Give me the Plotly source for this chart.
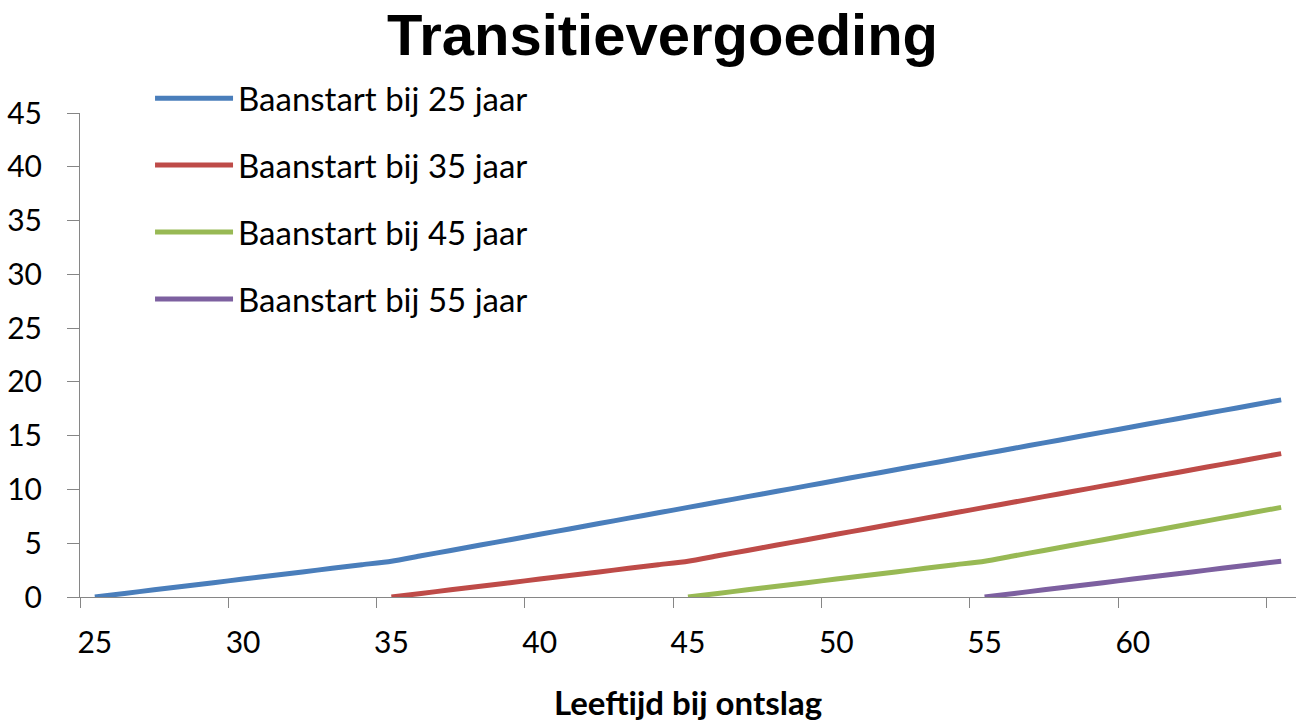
import plotly.graph_objects as go

# ---- data ----
ages_25 = list(range(25, 66))
vals_25 = [0, 0.33, 0.67, 1.0, 1.33, 1.67, 2.0, 2.33, 2.67, 3.0, 3.33,
           3.83, 4.33, 4.83, 5.33, 5.83, 6.33, 6.83, 7.33, 7.83, 8.33,
           8.83, 9.33, 9.83, 10.33, 10.83, 11.33, 11.83, 12.33, 12.83, 13.33,
           13.83, 14.33, 14.83, 15.33, 15.83, 16.33, 16.83, 17.33, 17.83, 18.33]
ages_35 = list(range(35, 66))
vals_35 = [0, 0.33, 0.67, 1.0, 1.33, 1.67, 2.0, 2.33, 2.67, 3.0, 3.33,
           3.83, 4.33, 4.83, 5.33, 5.83, 6.33, 6.83, 7.33, 7.83, 8.33,
           8.83, 9.33, 9.83, 10.33, 10.83, 11.33, 11.83, 12.33, 12.83, 13.33]
ages_45 = list(range(45, 66))
vals_45 = [0, 0.33, 0.67, 1.0, 1.33, 1.67, 2.0, 2.33, 2.67, 3.0, 3.33,
           3.83, 4.33, 4.83, 5.33, 5.83, 6.33, 6.83, 7.33, 7.83, 8.33]
ages_55 = list(range(55, 66))
vals_55 = [0, 0.33, 0.67, 1.0, 1.33, 1.67, 2.0, 2.33, 2.67, 3.0, 3.33]

series_names = ["Baanstart bij 25 jaar", "Baanstart bij 35 jaar",
                "Baanstart bij 45 jaar", "Baanstart bij 55 jaar"]
colors = ["#4A7EBB", "#BE4B48", "#98B954", "#7D60A0"]

x_tick_vals = [25, 30, 35, 40, 45, 50, 55, 60]
x_tick_marks = [24.5, 29.5, 34.5, 39.5, 44.5, 49.5, 54.5, 59.5, 64.5]
y_tick_vals = [0, 5, 10, 15, 20, 25, 30, 35, 40, 45]

title_text = "Transitievergoeding"
x_title = "Leeftijd bij ontslag"

FONT = "Lato"
TITLE_FONT = "Liberation Sans"

fig = go.Figure()
for i, (xs, ys) in enumerate([(ages_25, vals_25), (ages_35, vals_35),
                               (ages_45, vals_45), (ages_55, vals_55)]):
    fig.add_trace(go.Scatter(
        x=xs, y=ys, mode="lines", name=series_names[i],
        line=dict(color=colors[i], width=5, shape="spline", smoothing=0.6),
        legendgroup=str(i),
    ))

fig.update_layout(
    width=1299, height=724,
    margin=dict(l=80, r=3, t=113, b=127, autoexpand=False),
    paper_bgcolor="white", plot_bgcolor="white",
    font=dict(family=FONT, color="black", size=30),
    title=dict(text=title_text, xref="container", x=0.51, xanchor="center",
               yref="container", y=0.9805, yanchor="top",
               font=dict(family=TITLE_FONT, size=58, color="black", weight="bold")),
    showlegend=True,
    legend=dict(xref="container", x=0.1155, xanchor="left",
                yref="container", y=0.903, yanchor="top",
                bgcolor="rgba(0,0,0,0)", itemwidth=78, tracegroupgap=21,
                font=dict(size=33, family=FONT)),
    xaxis=dict(range=[24.5, 65.5], tickmode="array", tickvals=x_tick_vals,
               ticktext=[str(v) for v in x_tick_vals], ticks="",
               showgrid=False, zeroline=False, showline=True,
               linecolor="#868686", linewidth=1,
               tickfont=dict(size=30), ticklabelstandoff=19,
               minor=dict(tickmode="array", tickvals=x_tick_marks, ticks="outside",
                          ticklen=10, tickcolor="#868686", tickwidth=1, showgrid=False),
               title=dict(text=x_title, font=dict(size=33, weight="bold"), standoff=33)),
    yaxis=dict(range=[0, 45], tickmode="array", tickvals=y_tick_vals,
               ticks="outside", ticklen=12, tickcolor="#868686", tickwidth=1,
               showgrid=False, zeroline=False, showline=True,
               linecolor="#868686", linewidth=1,
               tickfont=dict(size=30), ticklabelstandoff=19),
)

fig.write_html("out.html", config={"displayModeBar": False},
               post_script="document.body.style.margin='0px';document.body.style.overflow='hidden';")
